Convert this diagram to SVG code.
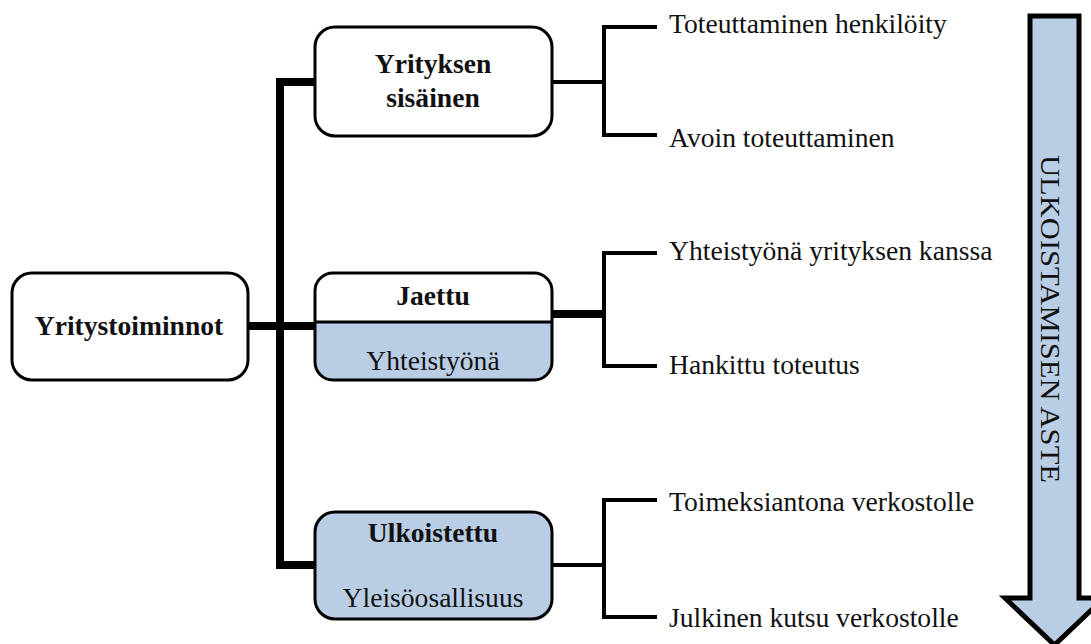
<svg xmlns="http://www.w3.org/2000/svg" width="1091" height="644" viewBox="0 0 1091 644">
<style>
text{font-family:"Liberation Serif","Times New Roman",serif;font-size:27.6px;fill:#111}
.b{font-weight:bold}
.m{text-anchor:middle}
.box{stroke:#000;stroke-width:3}
.w{fill:#fff}
.bl{fill:#b9cde5}
.thick{stroke:#000;stroke-width:8;fill:none}
.thin{stroke:#000;stroke-width:4;fill:none}
</style>
<rect width="1091" height="644" fill="#fff"/>
<g id="connectors">
<path class="thick" d="M318,82 H280 V565 H318"/>
<path class="thick" d="M248,326 H316"/>
<path class="thin" d="M552,82 H604"/>
<path class="thin" d="M657,27 H604 V135 H657"/>
<path class="thick" d="M552,314 H604"/>
<path class="thin" d="M657,253 H604 V366 H657"/>
<path class="thin" d="M552,565 H604"/>
<path class="thin" d="M657,500 H604 V617 H657"/>
</g>
<g id="yritystoiminnot">
<rect class="box w" x="12" y="273" width="236" height="107" rx="20"/>
<text class="b m" x="129" y="335">Yritystoiminnot</text>
</g>
<g id="yrityksen-sisainen">
<rect class="box w" x="315" y="27" width="237" height="109" rx="20"/>
<text class="b m" x="433" y="73">Yrityksen</text>
<text class="b m" x="433" y="107">sisäinen</text>
</g>
<g id="jaettu">
<path class="bl" d="M315,322 H552 V362 a18,18 0 0 1 -18,18 H333 a18,18 0 0 1 -18,-18 Z"/>
<path class="w" d="M315,322 V291 a18,18 0 0 1 18,-18 H534 a18,18 0 0 1 18,18 V322 Z"/>
<rect class="box" fill="none" x="315" y="273" width="237" height="107" rx="18"/>
<path stroke="#000" stroke-width="3" d="M315,322 H552"/>
<text class="b m" x="433" y="305">Jaettu</text>
<text class="m" x="433" y="370">Yhteistyönä</text>
</g>
<g id="ulkoistettu">
<rect class="box bl" x="315" y="512" width="237" height="107" rx="20"/>
<text class="b m" x="433" y="542">Ulkoistettu</text>
<text class="m" x="433" y="607">Yleisöosallisuus</text>
</g>
<g id="labels">
<text x="669" y="33">Toteuttaminen henkilöity</text>
<text x="669" y="147">Avoin toteuttaminen</text>
<text x="669" y="260">Yhteistyönä yrityksen kanssa</text>
<text x="669" y="374">Hankittu toteutus</text>
<text x="669" y="511">Toimeksiantona verkostolle</text>
<text x="669" y="627">Julkinen kutsu verkostolle</text>
</g>
<g id="arrow">
<polygon points="1030,16 1079,16 1079,598 1104,598 1054.5,645 1005,598 1030,598" fill="#b9cde5" stroke="#000" stroke-width="5" stroke-linejoin="miter"/>
<text transform="translate(1041,155) rotate(90)" font-size="31" textLength="328" lengthAdjust="spacingAndGlyphs">ULKOISTAMISEN ASTE</text>
</g>
</svg>
